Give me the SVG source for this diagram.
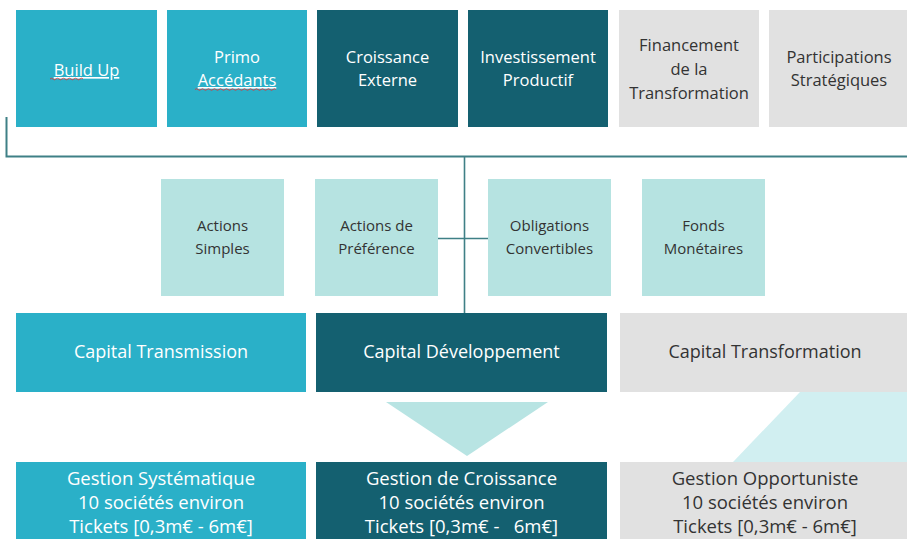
<svg xmlns="http://www.w3.org/2000/svg" width="907" height="539" viewBox="0 0 907 539">
<style>
text{font-family:"Open Sans","Liberation Sans",sans-serif;text-anchor:middle}
.blue{fill:#2ab0c8}.dark{fill:#146070}.gray{fill:#e1e1e1}.pale{fill:#b6e3e1}
.w{fill:#ffffff}.k{fill:#333333}
.t1{font-size:16.5px}.t2{font-size:15px}.t3{font-size:18px}.t4{font-size:18.5px}
.ln{stroke:#3f8086;fill:none}
.sq{stroke:#d9383a;stroke-width:0.9;fill:none}
</style>
<rect x="0" y="0" width="907" height="539" fill="#ffffff"/>
<polygon points="800,392 907,392 907,462 733,462" fill="#d1eff1"/>
<polygon points="386,402 548,402 467,456" fill="#b8e4e3"/>
<g id="connectors">
<polyline class="ln" stroke-width="2" points="6.5,117 6.5,156.5 907,156.5"/>
<line class="ln" stroke-width="1.6" x1="464.5" y1="156.5" x2="464.5" y2="313"/>
<line class="ln" stroke-width="1.6" x1="438" y1="238.5" x2="488" y2="238.5"/>
</g>
<g id="build-up"><rect class="blue" x="16" y="10" width="141" height="117"/>
<text class="t1 w" x="86.5" y="76" text-decoration="underline">Build Up</text>
<path class="sq" d="M50,79 q1.5,-1.5 3,0 t3,0 t3,0 t3,0 t3,0 t3,0 t3,0 t3,0 t3,0 t3,0 t3,0"/></g>
<g id="primo"><rect class="blue" x="167" y="10" width="140" height="117"/>
<text class="t1 w" x="237" y="63">Primo</text>
<text class="t1 w" x="237" y="86" text-decoration="underline">Accédants</text>
<path class="sq" d="M195,89.5 q1.5,-1.5 3,0 t3,0 t3,0 t3,0 t3,0 t3,0 t3,0 t3,0 t3,0 t3,0 t3,0 t3,0 t3,0 t3,0 t3,0 t3,0 t3,0 t3,0 t3,0 t3,0 t3,0 t3,0 t3,0 t3,0 t3,0 t3,0 t3,0"/></g>
<g id="croissance"><rect class="dark" x="317" y="10" width="141" height="117"/>
<text class="t1 w" x="387.5" y="63">Croissance</text>
<text class="t1 w" x="387.5" y="86">Externe</text></g>
<g id="investissement"><rect class="dark" x="468" y="10" width="140" height="117"/>
<text class="t1 w" x="538" y="63">Investissement</text>
<text class="t1 w" x="538" y="86">Productif</text></g>
<g id="financement"><rect class="gray" x="619" y="10" width="140" height="117"/>
<text class="t1 k" x="689" y="51">Financement</text>
<text class="t1 k" x="689" y="75">de la</text>
<text class="t1 k" x="689" y="99">Transformation</text></g>
<g id="participations"><rect class="gray" x="769" y="10" width="138" height="117"/>
<text class="t1 k" x="839" y="63">Participations</text>
<text class="t1 k" x="839" y="86">Stratégiques</text></g>
<g id="actions-simples"><rect class="pale" x="161" y="179" width="123" height="117"/>
<text class="t2 k" x="222.5" y="231">Actions</text>
<text class="t2 k" x="222.5" y="254">Simples</text></g>
<g id="actions-pref"><rect class="pale" x="315" y="179" width="123" height="117"/>
<text class="t2 k" x="376.5" y="231">Actions de</text>
<text class="t2 k" x="376.5" y="254">Préférence</text></g>
<g id="obligations"><rect class="pale" x="488" y="179" width="123" height="117"/>
<text class="t2 k" x="549.5" y="231">Obligations</text>
<text class="t2 k" x="549.5" y="254">Convertibles</text></g>
<g id="fonds"><rect class="pale" x="642" y="179" width="123" height="117"/>
<text class="t2 k" x="703.5" y="231">Fonds</text>
<text class="t2 k" x="703.5" y="254">Monétaires</text></g>
<g id="capital-transmission"><rect class="blue" x="16" y="313" width="290" height="79"/>
<text class="t3 w" x="161" y="358">Capital Transmission</text></g>
<g id="capital-developpement"><rect class="dark" x="316" y="313" width="291" height="79"/>
<text class="t3 w" x="461.5" y="358">Capital Développement</text></g>
<g id="capital-transformation"><rect class="gray" x="620" y="313" width="287" height="79"/>
<text class="t3 k" x="765" y="358">Capital Transformation</text></g>
<g id="gestion-systematique"><rect class="blue" x="16" y="462" width="290" height="77"/>
<text class="t4 w" x="161" y="485">Gestion Systématique</text>
<text class="t4 w" x="161" y="509">10 sociétés environ</text>
<text class="t4 w" x="161" y="533">Tickets [0,3m€ - 6m€]</text></g>
<g id="gestion-croissance"><rect class="dark" x="316" y="462" width="291" height="77"/>
<text class="t4 w" x="461.5" y="485">Gestion de Croissance</text>
<text class="t4 w" x="461.5" y="509">10 sociétés environ</text>
<text class="t4 w" x="461.5" y="533" xml:space="preserve">Tickets [0,3m€ -   6m€]</text></g>
<g id="gestion-opportuniste"><rect class="gray" x="620" y="462" width="287" height="77"/>
<text class="t4 k" x="765" y="485">Gestion Opportuniste</text>
<text class="t4 k" x="765" y="509">10 sociétés environ</text>
<text class="t4 k" x="765" y="533">Tickets [0,3m€ - 6m€]</text></g>
</svg>
